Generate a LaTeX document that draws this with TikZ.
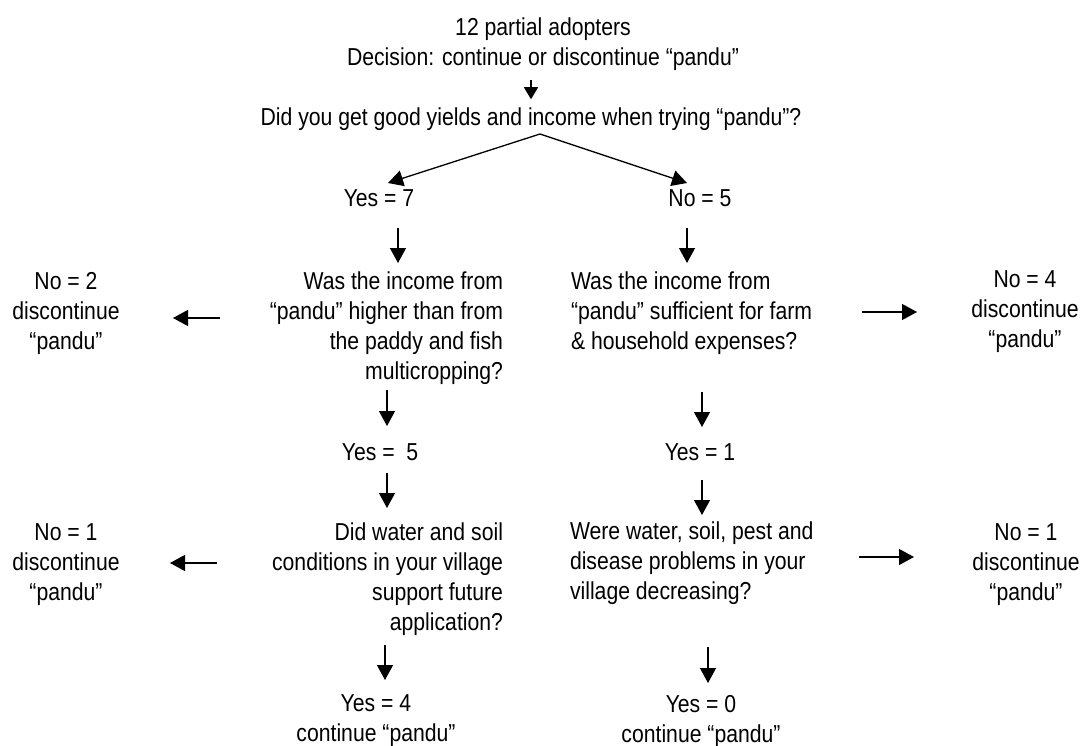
\documentclass[tikz,border=0pt]{standalone}
\usepackage{fontspec}
\setmainfont{Liberation Sans}[FakeStretch=0.865]
\usetikzlibrary{arrows.meta,calc}

\begin{document}
\begin{tikzpicture}[x=1pt,y=-1pt,
  txt/.style={inner sep=0pt, outer sep=0pt, font=\fontsize{24.5}{30}\selectfont},
  arr/.style={line width=1.3pt, -{Triangle[length=15pt,width=16pt]}},
  smallarr/.style={line width=1.3pt, -{Triangle[length=12pt,width=14pt]}}]
\useasboundingbox (0,0) rectangle (1086,746);

% decision header and first question
\node[txt, anchor=north, align=center] (top) at (543,18)
  {12 partial adopters\\Decision: continue or discontinue “pandu”};
\node[txt, anchor=base] (q0) at (531,126)
  {Did you get good yields and income when trying “pandu”?};
\node[txt, anchor=base] (yes7) at (379,207) {Yes = 7};
\node[txt, anchor=base] (no5) at (700,207) {No = 5};

% second level questions
\node[txt, anchor=north east, align=right] (q1l) at (503,272)
  {Was the income from\\“pandu” higher than from\\the paddy and fish\\multicropping?};
\node[txt, anchor=north west, align=left] (q1r) at (571,272)
  {Was the income from\\“pandu” sufficient for farm\\\& household expenses?};
\node[txt, anchor=north, align=center] (no2) at (66,272)
  {No = 2\\discontinue\\“pandu”};
\node[txt, anchor=north, align=center] (no4) at (1025,271)
  {No = 4\\discontinue\\“pandu”};
\node[txt, anchor=base] (yes5) at (380,460) {Yes = \ 5};
\node[txt, anchor=base] (yes1) at (700,460) {Yes = 1};

% third level questions
\node[txt, anchor=north east, align=right] (q2l) at (503,523)
  {Did water and soil\\conditions in your village\\support future\\application?};
\node[txt, anchor=north west, align=left] (q2r) at (570,522)
  {Were water, soil, pest and\\disease problems in your\\village decreasing?};
\node[txt, anchor=north, align=center] (no1l) at (66,524)
  {No = 1\\discontinue\\“pandu”};
\node[txt, anchor=north, align=center] (no1r) at (1026,524)
  {No = 1\\discontinue\\“pandu”};
\node[txt, anchor=north, align=center] (yes4) at (376,695)
  {Yes = 4\\continue “pandu”};
\node[txt, anchor=north, align=center] (yes0) at (701,695)
  {Yes = 0\\continue “pandu”};

% connectors
\draw[smallarr, shorten <=9pt, shorten >=9pt] (top.south -| q0.north) -- (q0.north);
\draw[arr] ($(q0.base)+(9,8)$) -- ($(yes7.base)+(9,-24)$);
\draw[arr] ($(q0.base)+(9,8)$) -- ($(no5.base)+(-13,-24)$);

\draw[arr] ($(yes7.base)+(19,21)$) -- ($(q1l.north east)+(-105,-9)$);
\draw[arr] ($(no5.base)+(-13,21)$) -- ($(q1r.north west)+(116,-9)$);
\draw[arr] ($(q1l.north east)+(-283,46)$) -- ($(no2.north)+(107,46)$);
\draw[arr] ($(q1r.north west)+(291,40)$) -- ($(no4.north)+(-108,41)$);
\draw[arr] ($(q1l.north east)+(-116,118)$) -- ($(yes5.base)+(7,-34)$);
\draw[arr] ($(q1r.north west)+(131,120)$) -- ($(yes1.base)+(2,-33)$);

\draw[arr] ($(yes5.base)+(7,13)$) -- ($(q2l.north east)+(-116,-15)$);
\draw[arr] ($(yes1.base)+(2,20)$) -- ($(q2r.north west)+(132,-7)$);
\draw[arr] ($(q2l.north east)+(-286,40)$) -- ($(no1l.north)+(104,39)$);
\draw[arr] ($(q2r.north west)+(289,35)$) -- ($(no1r.north)+(-112,33)$);
\draw[arr] ($(q2l.north east)+(-118,122)$) -- ($(yes4.north)+(9,-15)$);
\draw[arr] ($(q2r.north west)+(138,125)$) -- ($(yes0.north)+(7,-12)$);
\end{tikzpicture}
\end{document}
